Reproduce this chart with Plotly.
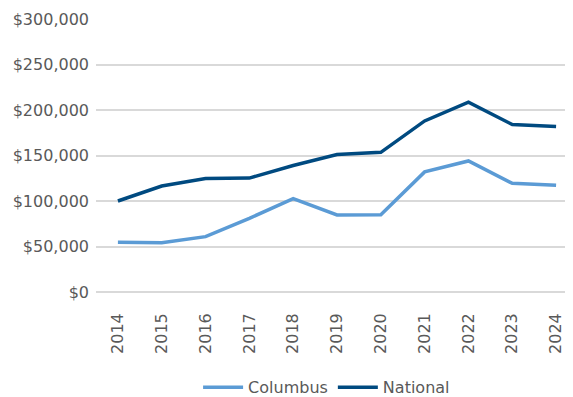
import plotly.graph_objects as go

years = ["2014", "2015", "2016", "2017", "2018", "2019", "2020", "2021", "2022", "2023", "2024"]
columbus = [54600, 54200, 60800, 81000, 102500, 84600, 85000, 132000, 144000, 119400, 117200]
national = [100000, 116500, 124800, 125200, 139000, 151000, 153500, 188000, 208500, 184000, 182000]

fig = go.Figure()
fig.add_trace(go.Scatter(x=years, y=columbus, mode="lines", name="Columbus",
                         line=dict(color="#5B9BD5", width=3.5)))
fig.add_trace(go.Scatter(x=years, y=national, mode="lines", name="National",
                         line=dict(color="#004A80", width=3.5)))

font = dict(family="DejaVu Sans, sans-serif", size=16, color="#595959")
fig.update_layout(
    width=573, height=389,
    margin=dict(l=88, r=3, t=11, b=105),
    plot_bgcolor="white", paper_bgcolor="white",
    font=font,
    showlegend=True,
    legend=dict(orientation="h", x=0.556, xanchor="center", xref="container",
                y=0.025, yanchor="middle", yref="container",
                font=font, traceorder="normal", itemwidth=40),
    xaxis=dict(type="category", tickangle=-90, range=[-0.5, 10.5], showgrid=False,
               showline=False, ticks="", tickfont=font, automargin=False,
               ticklabelstandoff=17),
    yaxis=dict(range=[0, 300000], dtick=50000, tickformat="$,.0f", showgrid=True,
               gridcolor="#D9D9D9", gridwidth=1.5, zeroline=True, zerolinecolor="#D9D9D9",
               zerolinewidth=1.5, showline=False, ticks="", tickfont=font, automargin=False,
               ticklabelstandoff=6),
)
fig.write_html("out.html")
